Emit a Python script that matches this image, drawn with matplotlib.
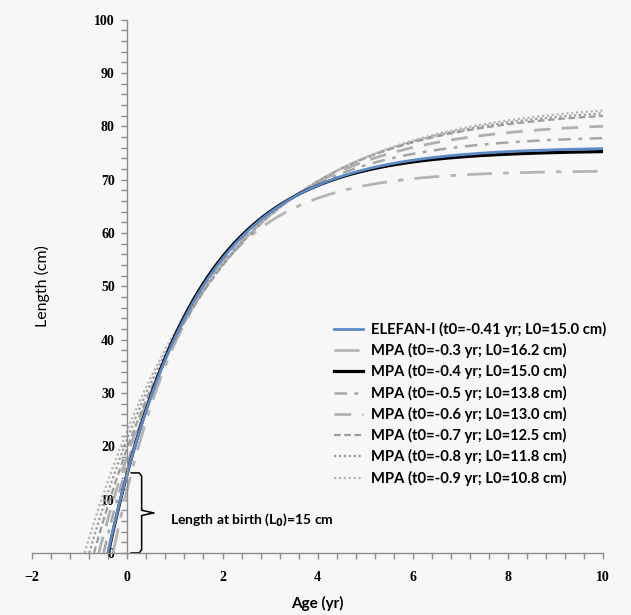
"""
Von Bertalanffy growth curves: ELEFAN-I fit vs MPA fits for several t0 values.
"""

import numpy as np
import matplotlib.pyplot as plt
from matplotlib.ticker import MultipleLocator

plt.rcParams['font.family'] = ['Lato', 'DejaVu Sans']
plt.rcParams['font.weight'] = 'bold'

# growth parameters (t0 from the legend)
labels = [
    'ELEFAN-I (t0=-0.41 yr; L0=15.0 cm)',
    'MPA (t0=-0.3 yr; L0=16.2 cm)',
    'MPA (t0=-0.4 yr; L0=15.0 cm)',
    'MPA (t0=-0.5 yr; L0=13.8 cm)',
    'MPA (t0=-0.6 yr; L0=13.0 cm)',
    'MPA (t0=-0.7 yr; L0=12.5 cm)',
    'MPA (t0=-0.8 yr; L0=11.8 cm)',
    'MPA (t0=-0.9 yr; L0=10.8 cm)',
]
t0 = [-0.41, -0.3, -0.4, -0.5, -0.6, -0.7, -0.8, -0.9]
l_inf = [76.1, 71.7, 75.5, 78.3, 80.9, 83.3, 84.0, 84.8]
k = [0.536, 0.611, 0.554, 0.4796, 0.426, 0.3854, 0.3688, 0.3522]
age_max = 10

# styles: color, linewidth, dashes (None = solid)
styles = [
    ('#5b8ac6', 2.0, None),
    ('#b4b4b4', 2.0, (9, 4, 2, 4)),
    ('#000000', 2.3, None),
    ('#a6a6a6', 1.8, (5, 3, 1.5, 3)),
    ('#b0b0b0', 2.0, (6, 4)),
    ('#9c9c9c', 1.6, (3, 1.6)),
    ('#9a9a9a', 1.6, (1, 1.2)),
    ('#b4b4b4', 1.6, (1, 1.2)),
]

fig = plt.figure(figsize=(6.31, 6.15), dpi=100, facecolor='#f7f7f7')
ax = fig.add_axes([0.051, 0.101, 0.905, 0.867])
ax.set_facecolor('#f7f7f7')

order = [1, 3, 4, 5, 6, 7, 2, 0]
handles = {}
for i in order:
    t = np.linspace(t0[i], age_max, 300)
    L = l_inf[i] * (1 - np.exp(-k[i] * (t - t0[i])))
    color, lw, dashes = styles[i]
    line, = ax.plot(t, L, color=color, lw=lw, label=labels[i])
    if dashes is not None:
        line.set_dashes(dashes)
    handles[i] = line

ax.legend([handles[i] for i in range(len(labels))], labels,
          loc='upper left', bbox_to_anchor=(0.505, 0.458), frameon=False,
          handlelength=2.0, handletextpad=0.5, labelspacing=0.42,
          prop={'weight': 'bold', 'size': 10.6})

# curly brace marking length at birth
bx0, bx1, btip = 0.08, 0.3, 0.55
by0, by1, bmid = 0.0, 15.0, 7.5
ax.plot([bx0, bx1 - 0.05, bx1, bx1, btip], [by1, by1, by1 - 0.6, bmid + 0.5, bmid],
        color='black', lw=1.1)
ax.plot([btip, bx1, bx1, bx1 - 0.05, bx0], [bmid, bmid - 0.5, by0 + 0.6, by0, by0],
        color='black', lw=1.1)
ax.text(0.9, 6.3, 'Length at birth (L$_0$)=15 cm', fontsize=10, fontweight='bold',
        va='center', ha='left')

ax.set_xlim(-2, 10)
ax.set_ylim(0, 100)
ax.spines['left'].set_position(('data', 0))
ax.spines['right'].set_visible(False)
ax.spines['top'].set_visible(False)
for s in ('left', 'bottom'):
    ax.spines[s].set_color('#8c8c8c')
    ax.spines[s].set_linewidth(1.0)

ax.xaxis.set_major_locator(MultipleLocator(2))
ax.xaxis.set_minor_locator(MultipleLocator(0.4))
ax.yaxis.set_major_locator(MultipleLocator(10))
ax.yaxis.set_minor_locator(MultipleLocator(2))
ax.tick_params(which='both', direction='out', length=4, color='#8c8c8c', width=1)
ax.tick_params(axis='x', which='major', pad=9, labelsize=10)
ax.tick_params(axis='y', which='major', pad=5, labelsize=10)
for lab in ax.get_xticklabels() + ax.get_yticklabels():
    lab.set_family(['Liberation Serif', 'DejaVu Serif'])
    lab.set_fontweight('bold')

ax.set_xlabel('Age (yr)', fontsize=11, fontweight='bold')
ax.set_ylabel('Length (cm)', fontsize=11.5, fontweight='normal')
ax.xaxis.set_label_coords(0.5, -0.08)
ax.yaxis.set_label_coords(0.032, 0.5)

fig.savefig('out.png', dpi=100, facecolor=fig.get_facecolor())
